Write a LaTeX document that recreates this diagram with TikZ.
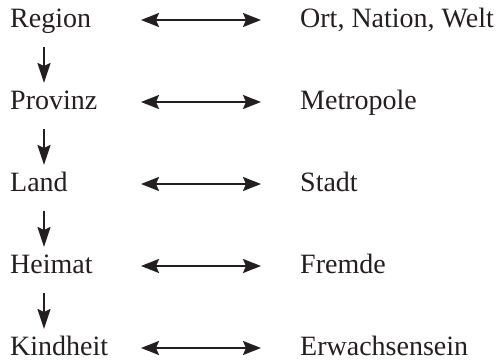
\documentclass[tikz,border=0pt]{standalone}
\usepackage{fontspec}
\setmainfont{Liberation Serif}
\newfontfamily\labelserif{Liberation Serif}
\usetikzlibrary{arrows.meta}
\definecolor{ink}{RGB}{35,31,32}
\begin{document}
\begin{tikzpicture}[x=1pt,y=1pt,
  lbl/.style={anchor=base west, inner sep=0pt, font=\labelserif\fontsize{28}{31}\selectfont, text=ink},
  harrow/.style={{Stealth[length=18pt,width=14pt,inset=3pt]}-{Stealth[length=18pt,width=14pt,inset=3pt]}, line width=2pt, draw=ink},
  varrow/.style={-{Stealth[length=20pt,width=13pt,inset=3pt]}, line width=1.8pt, draw=ink}]
\useasboundingbox (0,0) rectangle (499,362);
% left column
\node[lbl] (l1) at (10,334) {Region};
\node[lbl] (l2) at (10,252) {Provinz};
\node[lbl] (l3) at (10,170) {Land};
\node[lbl] (l4) at (10,88) {Heimat};
\node[lbl] (l5) at (10,6) {Kindheit};
% right column
\node[lbl] (r1) at (300,334) {Ort, Nation, Welt};
\node[lbl] (r2) at (300,252) {Metropole};
\node[lbl] (r3) at (300,170) {Stadt};
\node[lbl] (r4) at (300,88) {Fremde};
\node[lbl] (r5) at (300,6) {Erwachsensein};
% horizontal double arrows
\foreach \i/\y in {1/334,2/252,3/170,4/88,5/6}{
  \coordinate (ha\i) at (141,\y+8);
  \coordinate (hb\i) at (261,\y+8);
  \draw[harrow] (ha\i) -- (hb\i);
}
% vertical arrows
\foreach \i/\y in {1/334,2/252,3/170,4/88}{
  \coordinate (va\i) at (44,\y-19);
  \coordinate (vb\i) at (44,\y-55);
  \draw[varrow] (va\i) -- (vb\i);
}
\end{tikzpicture}
\end{document}
